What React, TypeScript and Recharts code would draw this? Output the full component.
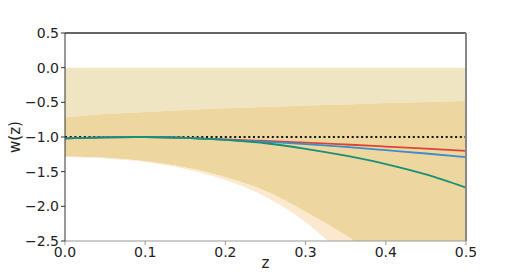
import {
  ComposedChart,
  Area,
  Line,
  XAxis,
  YAxis,
  ReferenceLine,
} from "recharts";

const zValues = [0, 0.05, 0.1, 0.15, 0.2, 0.25, 0.3, 0.35, 0.4, 0.45, 0.5];

// band edges
const topEdge = [0, 0, 0, 0, 0, 0, 0, 0, 0, 0, 0];
const upperEdge = [-0.72, -0.67, -0.64, -0.61, -0.585, -0.565, -0.545, -0.53, -0.51, -0.495, -0.48];
const innerLower = [-1.28, -1.3, -1.35, -1.44, -1.58, -1.78, -2.08, -2.42, -2.82, -3.3, -3.8];
const outerLower = [-1.29, -1.31, -1.36, -1.46, -1.62, -1.86, -2.23, -2.75, -3.4, -4.1, -4.9];

// model curves
const redLine = [-1.02, -1.005, -1.0, -1.012, -1.035, -1.058, -1.08, -1.108, -1.138, -1.168, -1.2];
const blueLine = [-1.02, -1.005, -1.0, -1.012, -1.04, -1.07, -1.103, -1.143, -1.19, -1.238, -1.29];
const greenLine = [-1.02, -1.005, -1.0, -1.012, -1.04, -1.09, -1.17, -1.27, -1.39, -1.54, -1.73];

const xTicks = [0, 0.1, 0.2, 0.3, 0.4, 0.5];
const yTicks = [-2.5, -2, -1.5, -1, -0.5, 0, 0.5];

const data = zValues.map((z, i) => ({
  z,
  light: [upperEdge[i], topEdge[i]],
  mid: [innerLower[i], upperEdge[i]],
  edge: [outerLower[i], innerLower[i]],
  red: redLine[i],
  blue: blueLine[i],
  green: greenLine[i],
}));

const font = "'DejaVu Sans', sans-serif";
const fmt = (v: number) => v.toFixed(1).replace("-", "\u2212");

export default function App() {
  return (
    <div style={{ width: 518, height: 272, margin: "-8px 0 0 -8px", fontFamily: font }}>
      <ComposedChart
        width={518}
        height={272}
        data={data}
        margin={{ top: 33, right: 52, bottom: 0, left: 0 }}
      >
        <XAxis
          dataKey="z"
          type="number"
          domain={[0, 0.5]}
          ticks={xTicks}
          tickFormatter={fmt}
          stroke="#999"
          tickSize={4}
          height={31}
          tick={{ fontSize: 14, fill: "#222", fontFamily: font }}
          label={{ value: "z", position: "center", dy: 6, fontSize: 15, fill: "#222", fontFamily: font }}
        />
        <YAxis
          type="number"
          domain={[-2.5, 0.5]}
          ticks={yTicks}
          allowDataOverflow
          tickFormatter={fmt}
          stroke="#333"
          tickSize={4}
          width={65}
          tick={{ fontSize: 14, fill: "#222", fontFamily: font }}
          label={{ value: "w(z)", angle: -90, position: "center", dx: -18, fontSize: 15, fill: "#222", fontFamily: font }}
        />
        <Area dataKey="light" type="monotone" stroke="none" fill="#efe5c3" fillOpacity={1} isAnimationActive={false} />
        <Area dataKey="mid" type="monotone" stroke="none" fill="#eed79e" fillOpacity={1} isAnimationActive={false} />
        <Area dataKey="edge" type="monotone" stroke="none" fill="#fce8cf" fillOpacity={1} isAnimationActive={false} />
        <ReferenceLine y={-1} stroke="#111" strokeWidth={2} strokeDasharray="2 2.7" />
        <Line dataKey="red" type="monotone" stroke="#d9453a" strokeWidth={1.8} dot={false} isAnimationActive={false} />
        <Line dataKey="blue" type="monotone" stroke="#3c8dcc" strokeWidth={1.8} dot={false} isAnimationActive={false} />
        <Line dataKey="green" type="monotone" stroke="#16907a" strokeWidth={1.8} dot={false} isAnimationActive={false} />
        <ReferenceLine y={0.5} stroke="#333" strokeWidth={1.5} />
        <ReferenceLine x={0.5} stroke="#888" strokeWidth={2} />
      </ComposedChart>
    </div>
  );
}
